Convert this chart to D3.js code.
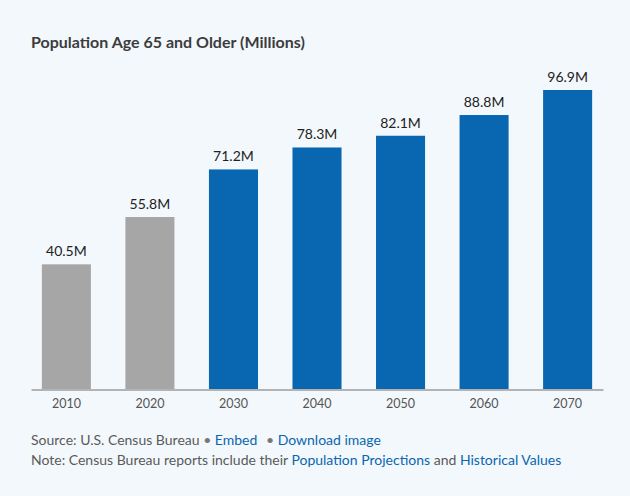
<!DOCTYPE html>
<html>
<head>
<meta charset="utf-8">
<script src="https://cdn.jsdelivr.net/npm/d3@7"></script>
<style>
  html, body { margin: 0; padding: 0; background: #f3f8fc; }
  body { width: 630px; height: 496px; overflow: hidden; font-family: Lato, "Open Sans", sans-serif; }
  .link { fill: #0a66b0; }
</style>
</head>
<body>
<div id="chart"></div>
<script>
const years = ["2010", "2020", "2030", "2040", "2050", "2060", "2070"];
const population = [40.5, 55.8, 71.2, 78.3, 82.1, 88.8, 96.9];
const projected = [false, false, true, true, true, true, true];

const width = 630, height = 496;
const baseline = 389.5;

const svg = d3.select("#chart")
    .append("svg")
    .attr("width", width)
    .attr("height", height);

svg.append("text")
    .attr("x", 31)
    .attr("y", 48)
    .attr("fill", "#3c3c3c")
    .style("font-size", "16px")
    .style("font-weight", "bold")
    .text("Population Age 65 and Older (Millions)");

const x = d3.scaleBand()
    .domain(years)
    .range([31, 603])
    .paddingInner(0.413)
    .paddingOuter(0.13);

const y = d3.scaleLinear()
    .domain([0, 96.9])
    .range([baseline, 90]);

const data = years.map((year, i) => ({year: year, value: population[i], projected: projected[i]}));

svg.selectAll("rect.bar")
    .data(data)
    .enter()
    .append("rect")
    .attr("class", "bar")
    .attr("x", d => x(d.year))
    .attr("y", d => y(d.value))
    .attr("width", x.bandwidth())
    .attr("height", d => baseline - y(d.value))
    .attr("fill", d => d.projected ? "#0966b1" : "#a6a6a6");

svg.selectAll("text.value")
    .data(data)
    .enter()
    .append("text")
    .attr("class", "value")
    .attr("x", d => x(d.year) + x.bandwidth() / 2)
    .attr("y", d => y(d.value) - 8)
    .attr("text-anchor", "middle")
    .attr("fill", "#222")
    .style("font-size", "14px")
    .text(d => `${d.value.toFixed(1)}M`);

const axis = svg.append("g")
    .attr("transform", `translate(0, ${baseline})`)
    .call(d3.axisBottom(x).tickSize(0).tickPadding(10));
axis.select(".domain").attr("stroke", "#b3b3b3").attr("stroke-width", 2);
axis.selectAll("text")
    .attr("fill", "#555")
    .style("font-size", "12.5px")
    .style("font-family", "Lato, sans-serif");

const source = svg.append("text")
    .attr("x", 31)
    .attr("y", 445)
    .attr("fill", "#5a5a5a")
    .style("font-size", "14px");
source.append("tspan").text("Source: U.S. Census Bureau ");
source.append("tspan").attr("fill", "#777").text("\u2022 ");
source.append("tspan").attr("class", "link").text("Embed");
source.append("tspan").attr("fill", "#777").attr("dx", 5).text(" \u2022 ");
source.append("tspan").attr("class", "link").text("Download image");

const note = svg.append("text")
    .attr("x", 31)
    .attr("y", 465)
    .attr("fill", "#5a5a5a")
    .style("font-size", "14px");
note.append("tspan").text("Note: Census Bureau reports include their ");
note.append("tspan").attr("class", "link").text("Population Projections");
note.append("tspan").text(" and ");
note.append("tspan").attr("class", "link").text("Historical Values");
</script>
</body>
</html>
